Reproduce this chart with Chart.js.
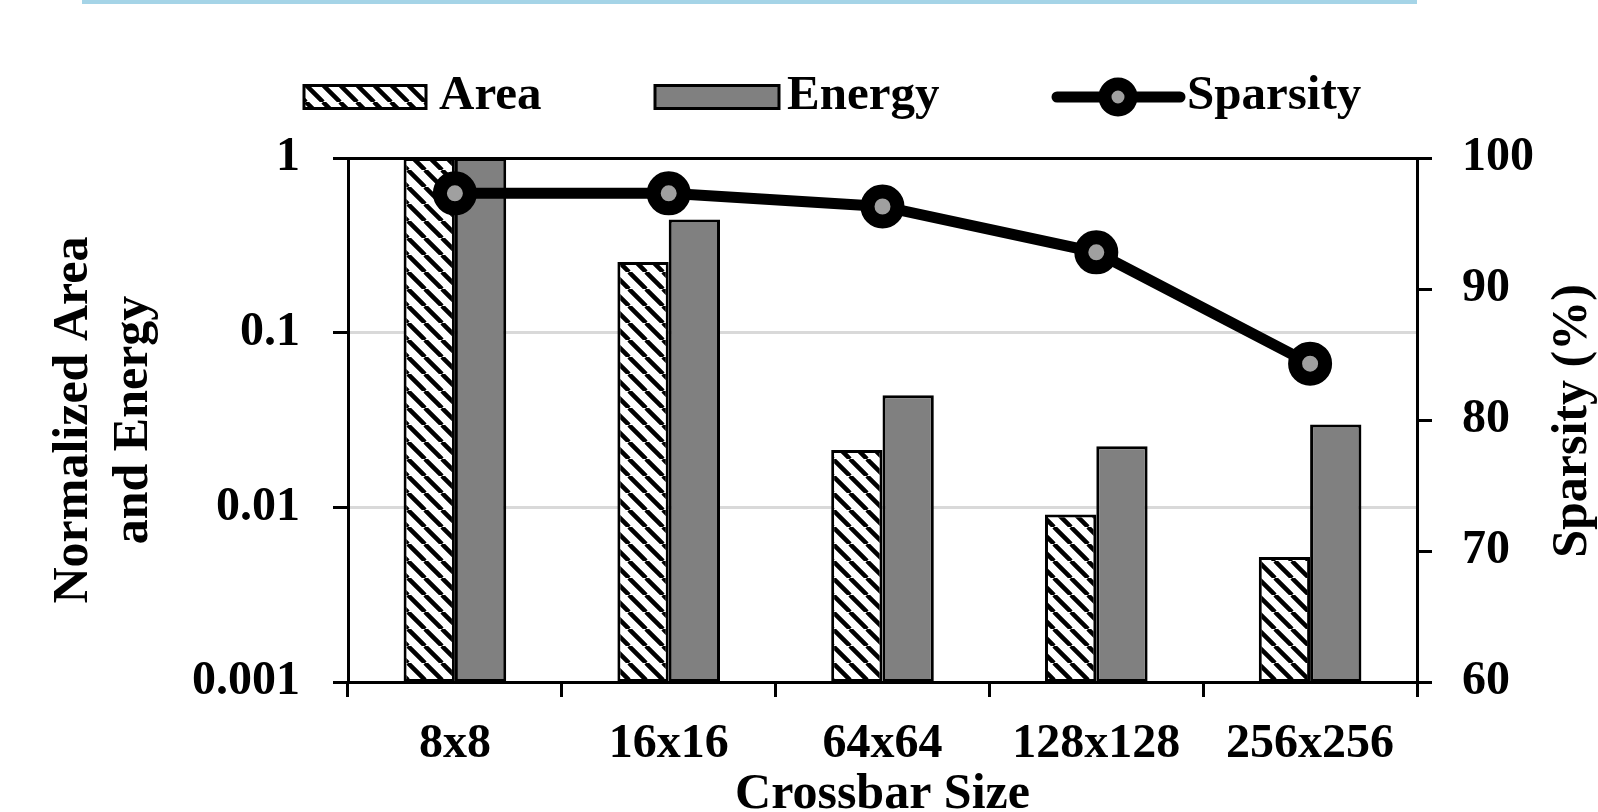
<!DOCTYPE html>
<html><head><meta charset="utf-8">
<script src="https://cdn.jsdelivr.net/npm/chart.js@4/dist/chart.umd.min.js"></script>
<style>html,body{margin:0;padding:0;background:#fff;} canvas{display:block;}</style>
</head><body>
<canvas id="c" width="1598" height="812"></canvas>
<script>
const categories = ['8x8', '16x16', '64x64', '128x128', '256x256'];
const areaValues = [1, 0.254, 0.0213, 0.0091, 0.0052];
const energyValues = [1, 0.445, 0.0438, 0.0224, 0.0298];
const sparsityValues = [97.3, 97.3, 96.3, 92.8, 84.3];
const leftTicks = [0.001, 0.01, 0.1, 1];
const rightTicks = [60, 70, 80, 90, 100];
const seriesNames = ['Area', 'Energy', 'Sparsity'];
const leftTitle = ['Normalized Area', 'and Energy'];
const rightTitle = 'Sparsity (%)';
const xTitle = 'Crossbar Size';

const FONT = "'Liberation Serif','Times New Roman',serif";
const canvas = document.getElementById('c');
const mainCtx = canvas.getContext('2d');

function makeHatch() {
  const s = 17;
  const c = document.createElement('canvas'); c.width = s; c.height = s;
  const g = c.getContext('2d');
  g.fillStyle = '#fff'; g.fillRect(0, 0, s, s);
  g.strokeStyle = '#000'; g.lineWidth = 4.5;
  g.beginPath();
  for (const o of [-s, 0, s]) { g.moveTo(o, 0); g.lineTo(o + s, s); }
  g.stroke();
  return mainCtx.createPattern(c, 'repeat');
}
const hatch = makeHatch();

const backgroundPlugin = {
  id: 'bg',
  beforeDraw(chart) {
    const ctx = chart.ctx;
    ctx.save();
    ctx.fillStyle = '#fff';
    ctx.fillRect(0, 0, chart.width, chart.height);
    ctx.fillStyle = '#a5d4e7';
    ctx.fillRect(82, 0, 1335, 4);
    ctx.restore();
  }
};

const legendPlugin = {
  id: 'customLegend',
  afterDraw(chart) {
    const ctx = chart.ctx;
    const byLabel = l => chart.data.datasets.find(d => d.label === l);
    ctx.save();
    ctx.font = 'bold 49px ' + FONT;
    ctx.fillStyle = '#000';
    ctx.textBaseline = 'alphabetic';
    ctx.textAlign = 'left';
    const boxY = 85.5, boxH = 23, baseY = 109;
    // Area
    const a = byLabel(seriesNames[0]);
    ctx.fillStyle = a.backgroundColor; ctx.fillRect(304, boxY, 122, boxH);
    ctx.lineWidth = 3; ctx.strokeStyle = '#000'; ctx.strokeRect(304, boxY, 122, boxH);
    ctx.fillStyle = '#000'; ctx.fillText(a.label, 439, baseY);
    // Energy
    const e = byLabel(seriesNames[1]);
    ctx.fillStyle = e.backgroundColor; ctx.fillRect(655, boxY, 124, boxH);
    ctx.strokeRect(655, boxY, 124, boxH);
    ctx.fillStyle = '#000'; ctx.fillText(e.label, 787, baseY);
    // Sparsity
    const s = byLabel(seriesNames[2]);
    ctx.strokeStyle = '#000'; ctx.lineWidth = 11; ctx.lineCap = 'round';
    ctx.beginPath(); ctx.moveTo(1057, 97); ctx.lineTo(1180, 97); ctx.stroke();
    ctx.beginPath(); ctx.arc(1118, 97, 13, 0, Math.PI * 2);
    ctx.fillStyle = s.pointBackgroundColor; ctx.fill();
    ctx.lineWidth = 13; ctx.stroke();
    ctx.fillStyle = '#000'; ctx.fillText(s.label, 1187, baseY);
    // right axis title
    ctx.translate(1586, 421);
    ctx.rotate(-Math.PI / 2);
    ctx.textAlign = 'center';
    ctx.font = 'bold 50px ' + FONT;
    ctx.fillText(rightTitle, 0, 0);
    ctx.restore();
  }
};

const tickFont = { family: FONT, size: 48, weight: 'bold', lineHeight: 1.0 };
const titleFont = { family: FONT, size: 50, weight: 'bold', lineHeight: 1.2 };

new Chart(mainCtx, {
  type: 'bar',
  data: {
    labels: categories,
    datasets: [
      {
        type: 'line', label: seriesNames[2], data: sparsityValues, yAxisID: 'y1', order: 0,
        borderColor: '#000', borderWidth: 11, pointRadius: 15, pointHoverRadius: 15,
        pointBorderWidth: 14, pointBackgroundColor: '#a0a0a0', pointBorderColor: '#000',
        tension: 0, fill: false, clip: false
      },
      {
        label: seriesNames[0], data: areaValues, yAxisID: 'y', order: 1,
        backgroundColor: hatch, borderColor: '#000', borderWidth: 3, borderSkipped: false,
        categoryPercentage: 0.48, barPercentage: 1.0
      },
      {
        label: seriesNames[1], data: energyValues, yAxisID: 'y', order: 2,
        backgroundColor: '#808080', borderColor: '#000', borderWidth: 3, borderSkipped: false,
        categoryPercentage: 0.48, barPercentage: 1.0
      }
    ]
  },
  options: {
    responsive: false,
    animation: false,
    devicePixelRatio: 1,
    layout: { padding: { top: 158, left: 0, right: 0, bottom: 0 } },
    plugins: { legend: { display: false }, tooltip: { enabled: false }, title: { display: false } },
    scales: {
      x: {
        type: 'category', offset: true,
        grid: { offset: true, drawOnChartArea: false, tickLength: 15, tickColor: '#000', tickWidth: 3, lineWidth: 3 },
        border: { display: true, color: '#000', width: 3 },
        ticks: { color: '#000', font: tickFont, padding: 24, maxRotation: 0, autoSkip: false },
        title: { display: true, text: xTitle, color: '#000', font: { family: FONT, size: 50, weight: 'bold', lineHeight: 1.0 }, padding: { top: 0, bottom: -8 } },
        afterFit(s) { s.height = 130; }
      },
      y: {
        type: 'logarithmic', position: 'left', min: 0.001, max: 1,
        afterBuildTicks(s) { s.ticks = leftTicks.map(v => ({ value: v, major: true })); },
        ticks: { color: '#000', font: tickFont, padding: 33, callback: v => String(v), autoSkip: false },
        grid: {
          color: c => (c.tick && (c.tick.value === 1 || c.tick.value === 0.001)) ? '#000' : '#d9d9d9',
          lineWidth: 3, tickColor: '#000', tickLength: 15, tickWidth: 3
        },
        border: { display: true, color: '#000', width: 3 },
        title: { display: true, text: leftTitle, color: '#000', font: titleFont, padding: { top: 44, bottom: 0 } },
        afterFit(s) { s.width = 348; }
      },
      y1: {
        type: 'linear', position: 'right', min: 60, max: 100,
        afterBuildTicks(s) { s.ticks = rightTicks.map(v => ({ value: v })); },
        ticks: { color: '#000', font: tickFont, padding: 30, autoSkip: false },
        grid: { drawOnChartArea: false, tickColor: '#000', tickLength: 15, tickWidth: 3, lineWidth: 3 },
        border: { display: true, color: '#000', width: 3 },
        title: { display: false },
        afterFit(s) { s.width = 181; }
      }
    }
  },
  plugins: [backgroundPlugin, legendPlugin]
});
</script>
</body></html>
